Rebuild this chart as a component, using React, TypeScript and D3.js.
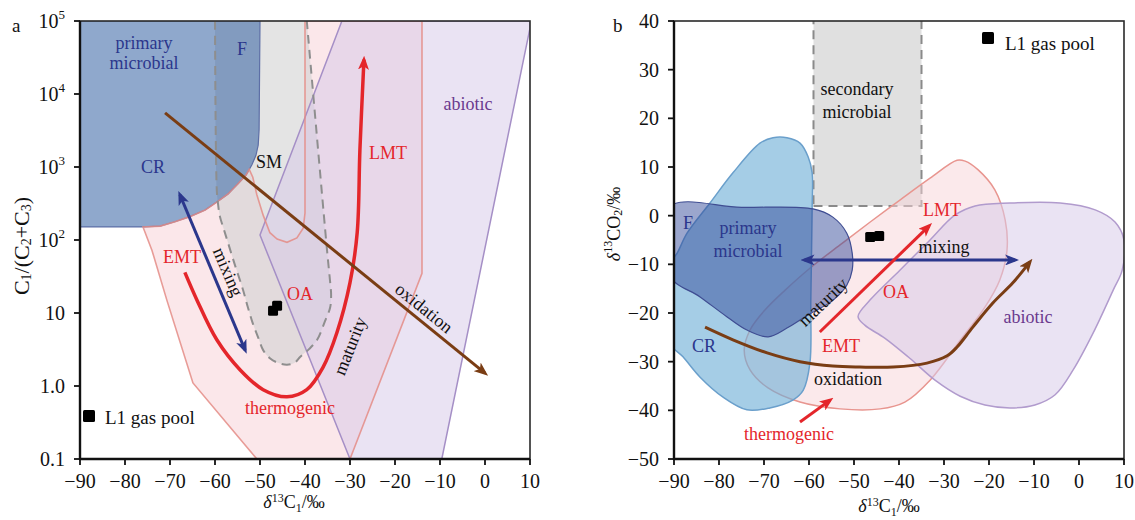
import React from 'react'
import * as d3 from 'd3'

type Pt = [number, number]

// axis ticks
const d13cTicks = [-90, -80, -70, -60, -50, -40, -30, -20, -10, 0, 10]
const ratioTicks = [0.1, 1, 10, 100, 1e3, 1e4, 1e5]
const ratioLabels = ['0.1', '1.0', '10', '10', '10', '10', '10']
const ratioExps = ['', '', '', '2', '3', '4', '5']
const co2Ticks = [40, 30, 20, 10, 0, -10, -20, -30, -40, -50]

// panel a fields, [δ13C1, C1/(C2+C3)]
const crArcA: Pt[] = [[-50, 1e5], [-50.2, 3236], [-50.4, 1995], [-50.9, 1445], [-51.8, 1072], [-53.1, 776], [-54.9, 589], [-57.1, 427], [-59.6, 331], [-62.2, 257], [-65.6, 209], [-68.9, 178], [-72.2, 155], [-76, 151]]
const thermoA: Pt[] = [[-76, 151], [-74, 72], [-70.7, 15], [-64.9, 1.1], [-50.7, 0.1], [-30, 0.1], [-14, 35], [-14, 1e5], [-40, 1e5], [-40, 234], [-40.4, 145], [-41.8, 107], [-44, 93], [-46.2, 103], [-47.8, 126], [-49.3, 219], [-50.7, 417], [-51.6, 724], [-52.4, 930], [-53.1, 776], [-54.9, 589], [-57.1, 427], [-59.6, 331], [-62.2, 257], [-65.6, 209], [-68.9, 178], [-72.2, 155]]
const smA: Pt[] = [[-60, 1e5], [-59.6, 479], [-59.3, 302], [-58.9, 209], [-58, 138], [-57.3, 100], [-55.6, 46], [-53.8, 21], [-52.7, 12], [-51.6, 7.2], [-50.4, 4.6], [-49.3, 3.1], [-47.8, 2.4], [-46.2, 2.1], [-44, 1.95], [-42.2, 2.1], [-41.1, 2.5], [-39.1, 3.2], [-37.3, 4.3], [-35.6, 7.6], [-34.4, 12], [-34.2, 18], [-34.4, 26], [-35.1, 72], [-39.6, 1e5]]
const abioticA: Pt[] = [[-31.8, 1e5], [-50, 117], [-30, 0.1], [-9.6, 0.1], [10, 8e4], [10, 1e5]]
const maturityA: Pt[] = [[-66.7, 36], [-64, 15], [-59.6, 4.3], [-54.4, 1.66], [-49.3, 0.89], [-44, 0.71], [-39.6, 0.89], [-36, 1.8], [-32.9, 5.4], [-30, 26], [-28.4, 126], [-27.8, 1700], [-26.9, 29500]]
const oxidationA: Pt[] = [[-71.1, 5500], [0, 1.5]]
const mixingA: Pt[] = [[-67.8, 417], [-53.3, 3.1]]
const poolA: Pt[] = [[-47.1, 10.7], [-46.2, 12.6]]

// panel b fields, [δ13C1, δ13CO2]
const smB: Pt[] = [[-59, 2], [-35, 2], [-35, 41], [-59, 41]]
const crB: Pt[] = [[-68, 16], [-64.9, 16], [-62, 14.9], [-60.2, 12.1], [-59.3, 8.8], [-59.3, 1.8], [-59.6, -17.4], [-59.8, -30.3], [-61.3, -35.9], [-63.6, -37.9], [-68.7, -39.5], [-73.8, -39.9], [-79.1, -37.3], [-84.2, -33.2], [-88, -29], [-91, -26], [-91, -10], [-89.3, -7.7], [-87.1, -3.6], [-82, 2.6], [-76.9, 8.8], [-70.9, 14.9]]
const fB: Pt[] = [[-91, 1.8], [-75, 1.7], [-59.1, 1.4], [-54.7, -0.3], [-51.6, -3.6], [-50.4, -7.7], [-50.4, -11.2], [-51.6, -14.3], [-54.7, -17.4], [-60.4, -20.5], [-64.9, -23.1], [-69.1, -24.9], [-73.8, -23.5], [-78.2, -20.8], [-84.2, -16.7], [-91, -12.3]]
const thermoB: Pt[] = [[-27.1, 11.4], [-33.1, 7.7], [-39.8, 3.2], [-46.4, -1.3], [-53.1, -6], [-59.8, -10.8], [-65.3, -15.3], [-69.8, -19.4], [-73.1, -23.5], [-74.4, -27.6], [-73.1, -31.7], [-69.1, -35.4], [-62, -38.3], [-53.1, -39.7], [-44.2, -39.7], [-38.7, -38.3], [-33.1, -33.8], [-26.4, -25.6], [-20.9, -18.8], [-17.6, -13.2], [-16, -7.1], [-16.4, -0.9], [-18.7, 5.3], [-22.4, 9.4], [-25.3, 11.2]]
const abioticB: Pt[] = [[-49.1, -20.7], [-46.4, -17.3], [-39.8, -11.2], [-33.1, -5], [-27.6, 0.1], [-23.1, 2], [-15.3, 2.6], [-4.2, 2.6], [3.6, 1.2], [8, -1.3], [10, -5], [9.6, -11.2], [7.6, -15.3], [3.1, -24.2], [-1.3, -31.7], [-5.3, -36.8], [-9.8, -38.9], [-15.3, -39.5], [-20.9, -38.9], [-26.4, -37.1], [-32, -33.8], [-37.6, -29.3], [-43.1, -25.2], [-47.6, -22.5]]
const mixingB: Pt[] = [[-61, -9.1], [-14.2, -9.1]]
const maturityB: Pt[] = [[-57.6, -23.9], [-33.3, -2.1]]
const thermoArrowB: Pt[] = [[-62, -42.4], [-55.3, -37.9]]
const oxidationB: Pt[] = [[-83.1, -22.9], [-76.9, -25.5], [-69.3, -28.2], [-62, -30], [-54.7, -30.9], [-48.7, -31.1], [-41.3, -31.1], [-33.8, -30.3], [-29.3, -28.8], [-27.1, -27], [-23.6, -22.9], [-19.1, -17.9], [-14.7, -13.8], [-10.9, -9.5]]
const poolB: Pt[] = [[-46.4, -4.4], [-44.4, -4.2]]

const FONT = '"Liberation Serif", "DejaVu Serif", "Times New Roman", serif'
const NAVY = '#2b378c'
const RED = '#e4262b'
const PURPLE = '#6a3a8e'
const BROWN = '#7a3d14'

const xA = d3.scaleLinear().domain([-90, 10]).range([80, 530])
const yA = d3.scaleLog().domain([0.1, 1e5]).range([459, 21])
const xB = d3.scaleLinear().domain([-90, 10]).range([674, 1124])
const yB = d3.scaleLinear().domain([-50, 40]).range([459, 21])

const lineOf = (xs: any, ys: any, curve: any) =>
  d3.line<Pt>().x(d => xs(d[0])).y(d => ys(d[1])).curve(curve)

const polyA = lineOf(xA, yA, d3.curveLinearClosed)
const curveA = lineOf(xA, yA, d3.curveCatmullRom.alpha(0.5))
const straightA = lineOf(xA, yA, d3.curveLinear)
const blobB = lineOf(xB, yB, d3.curveCatmullRomClosed.alpha(0.5))
const polyB = lineOf(xB, yB, d3.curveLinearClosed)
const curveB = lineOf(xB, yB, d3.curveCatmullRom.alpha(0.5))
const straightB = lineOf(xB, yB, d3.curveLinear)

const Label = ({ x, y, c = '#111', rot = 0, size = 18, children }: any) => (
  <text x={x} y={y} fill={c} fontSize={size} textAnchor="middle"
    dominantBaseline={rot ? 'central' : undefined}
    transform={rot ? `rotate(${rot} ${x} ${y})` : undefined}>{children}</text>
)

const Frame = ({ xs, ys, yTicks, yLabel }: any) => {
  const [x0, x1] = xs.range()
  const [y1, y0] = ys.range()
  return (
    <g>
      <rect x={x0} y={y0} width={x1 - x0} height={y1 - y0} fill="none" stroke="#2a2a2a" strokeWidth={1.6} />
      <line x1={x0} x2={x0} y1={y0} y2={y1 + 1} stroke="#111" strokeWidth={2.4} />
      <line x1={x0 - 1} x2={x1} y1={y1} y2={y1} stroke="#111" strokeWidth={2.4} />
      {d13cTicks.map(t => (
        <g key={t}>
          <line x1={xs(t)} x2={xs(t)} y1={y1} y2={y1 + 6} stroke="#111" strokeWidth={1.8} />
          <text x={xs(t)} y={y1 + 29} fontSize={20} textAnchor="middle" fill="#111">
            {t < 0 ? `\u2212${-t}` : `${t}`}
          </text>
        </g>
      ))}
      {yTicks.map((t: number, i: number) => (
        <g key={t}>
          <line x1={x0 - 6} x2={x0} y1={ys(t)} y2={ys(t)} stroke="#111" strokeWidth={1.8} />
          <text x={x0 - 15} y={ys(t) + 7} fontSize={20} textAnchor="end" fill="#111">{yLabel(t, i)}</text>
        </g>
      ))}
    </g>
  )
}

const Arrowheads = () => (
  <defs>
    {[['red', RED], ['navy', NAVY], ['brown', BROWN]].map(([id, c]) => (
      <marker key={id} id={`ah-${id}`} viewBox="0 0 14 11" refX={10} refY={5.5}
        markerWidth={14} markerHeight={11} markerUnits="userSpaceOnUse" orient="auto-start-reverse">
        <path d="M0,0 L14,5.5 L0,11 L3.5,5.5 Z" fill={c} />
      </marker>
    ))}
    <clipPath id="clip-a"><rect x={80} y={21} width={450} height={438} /></clipPath>
    <clipPath id="clip-b"><rect x={674} y={21} width={450} height={438} /></clipPath>
  </defs>
)

const Square = ({ x, y, s = 11 }: any) => <rect x={x - s / 2} y={y - s / 2} width={s} height={s} rx={1.5} fill="#000" />

const d13cTitle = (
  <>
    <tspan fontStyle="italic">δ</tspan>
    <tspan dy={-6} fontSize={12}>13</tspan>
    <tspan dy={6}>C</tspan>
    <tspan dy={4} fontSize={12}>1</tspan>
    <tspan dy={-4}>/‰</tspan>
  </>
)

export default function App() {
  const primaryA: Pt[] = [[-90, 1e5], ...crArcA, [-90, 151]]
  return (
    <svg width={1135} height={520} style={{ position: 'absolute', left: 0, top: 0, background: '#fff' }} fontFamily={FONT}>
      <Arrowheads />

      {/* ---------- panel a ---------- */}
      <g clipPath="url(#clip-a)">
        <path d={polyA(thermoA) || ''} fill="#f6c9d0" fillOpacity={0.45} stroke="none" />
        <path d={curveA(smA) + 'Z'} fill="#d2d2d2" fillOpacity={0.6} stroke="none" />
        <path d={polyA(abioticA) || ''} fill="#d5c8e8" fillOpacity={0.5} stroke="#a58fc6" strokeWidth={1.5} />
        <path d={polyA(primaryA) || ''} fill="rgb(31,81,153)" fillOpacity={0.5} stroke="#5d6fa6" strokeWidth={1.2} />
        <path d={polyA(thermoA) || ''} fill="none" stroke="#e48c86" strokeWidth={1.6} strokeOpacity={0.85} />
        <path d={curveA(smA) || ''} fill="none" stroke="#8e8e8e" strokeWidth={2} strokeDasharray="9,6" />
      </g>
      <path d={curveA(maturityA) || ''} fill="none" stroke={RED} strokeWidth={3.5} markerEnd="url(#ah-red)" />
      <path d={straightA(oxidationA) || ''} fill="none" stroke={BROWN} strokeWidth={3} markerEnd="url(#ah-brown)" />
      <path d={straightA(mixingA) || ''} fill="none" stroke={NAVY} strokeWidth={3} markerStart="url(#ah-navy)" markerEnd="url(#ah-navy)" />
      {poolA.map((p, i) => <Square key={i} x={xA(p[0])} y={yA(p[1])} s={10} />)}

      <Label x={144} y={49} c={NAVY}>primary</Label>
      <Label x={144} y={69} c={NAVY}>microbial</Label>
      <Label x={242} y={55} c={NAVY}>F</Label>
      <Label x={153} y={173} c={NAVY}>CR</Label>
      <Label x={269} y={168}>SM</Label>
      <Label x={388} y={159} c={RED}>LMT</Label>
      <Label x={468} y={110} c={PURPLE}>abiotic</Label>
      <Label x={182} y={263} c={RED}>EMT</Label>
      <Label x={300} y={300} c={RED}>OA</Label>
      <Label x={290} y={414} c={RED}>thermogenic</Label>
      <Label x={228} y={272} rot={67}>mixing</Label>
      <Label x={424} y={308} rot={39}>oxidation</Label>
      <Label x={350} y={346} rot={-68}>maturity</Label>

      <Frame xs={xA} ys={yA} yTicks={ratioTicks}
        yLabel={(t: number, i: number) => ratioExps[i]
          ? <>{ratioLabels[i]}<tspan dy={-9} fontSize={13}>{ratioExps[i]}</tspan></>
          : ratioLabels[i]} />
      <Square x={89} y={416} s={12} />
      <text x={105} y={424} fontSize={19} fill="#111">L1 gas pool</text>
      <text x={12} y={32} fontSize={19} fill="#111">a</text>
      <text x={294} y={508} fontSize={18} textAnchor="middle" fill="#111">{d13cTitle}</text>
      <text x={21} y={246} fontSize={22} textAnchor="middle" dominantBaseline="central" fill="#111" transform="rotate(-90 21 246)">
        C<tspan dy={5} fontSize={14}>1</tspan><tspan dy={-5}>/(C</tspan><tspan dy={5} fontSize={14}>2</tspan><tspan dy={-5}>+C</tspan><tspan dy={5} fontSize={14}>3</tspan><tspan dy={-5}>)</tspan>
      </text>

      {/* ---------- panel b ---------- */}
      <g clipPath="url(#clip-b)">
        <path d={polyB(smB) || ''} fill="#e0e0e0" stroke="#8a8a8a" strokeWidth={2} strokeDasharray="9,6" />
        <path d={blobB(thermoB) || ''} fill="#f8d3d8" fillOpacity={0.5} stroke="#e8958f" strokeWidth={1.5} />
        <path d={blobB(abioticB) || ''} fill="#d8cce9" fillOpacity={0.55} stroke="#b19bcd" strokeWidth={1.5} />
        <path d={blobB(crB) || ''} fill="rgb(110,175,215)" fillOpacity={0.62} stroke="#6a9fcb" strokeWidth={1.5} />
        <path d={blobB(fB) || ''} fill="rgb(45,70,150)" fillOpacity={0.48} stroke="#3f4d92" strokeWidth={1.2} />
      </g>
      <path d={straightB(mixingB) || ''} fill="none" stroke={NAVY} strokeWidth={3} markerStart="url(#ah-navy)" markerEnd="url(#ah-navy)" />
      <path d={straightB(maturityB) || ''} fill="none" stroke={RED} strokeWidth={3} markerEnd="url(#ah-red)" />
      <path d={straightB(thermoArrowB) || ''} fill="none" stroke={RED} strokeWidth={3} markerEnd="url(#ah-red)" />
      <path d={curveB(oxidationB) || ''} fill="none" stroke={BROWN} strokeWidth={3} markerEnd="url(#ah-brown)" />
      {poolB.map((p, i) => <Square key={i} x={xB(p[0])} y={yB(p[1])} s={10} />)}

      <Label x={857} y={95}>secondary</Label>
      <Label x={857} y={118}>microbial</Label>
      <Label x={688} y={229} c={NAVY}>F</Label>
      <Label x={748} y={234} c={NAVY}>primary</Label>
      <Label x={748} y={257} c={NAVY}>microbial</Label>
      <Label x={704} y={352} c={NAVY}>CR</Label>
      <Label x={841} y={352} c={RED}>EMT</Label>
      <Label x={896} y={298} c={RED}>OA</Label>
      <Label x={942} y={216} c={RED}>LMT</Label>
      <Label x={944} y={253}>mixing</Label>
      <Label x={1028} y={323} c={PURPLE}>abiotic</Label>
      <Label x={848} y={385}>oxidation</Label>
      <Label x={789} y={440} c={RED}>thermogenic</Label>
      <Label x={823} y={302} rot={-44}>maturity</Label>

      <Frame xs={xB} ys={yB} yTicks={co2Ticks}
        yLabel={(t: number) => (t < 0 ? `\u2212${-t}` : `${t}`)} />
      <Square x={988} y={38} s={12} />
      <text x={1005} y={50} fontSize={19} fill="#111">L1 gas pool</text>
      <text x={613} y={32} fontSize={19} fill="#111">b</text>
      <text x={889} y={512} fontSize={18} textAnchor="middle" fill="#111">{d13cTitle}</text>
      <text x={614} y={224} fontSize={18} textAnchor="middle" dominantBaseline="central" fill="#111" transform="rotate(-90 614 224)">
        <tspan fontStyle="italic">δ</tspan><tspan dy={-6} fontSize={12}>13</tspan><tspan dy={6}>CO</tspan><tspan dy={4} fontSize={12}>2</tspan><tspan dy={-4}>/‰</tspan>
      </text>
    </svg>
  )
}
